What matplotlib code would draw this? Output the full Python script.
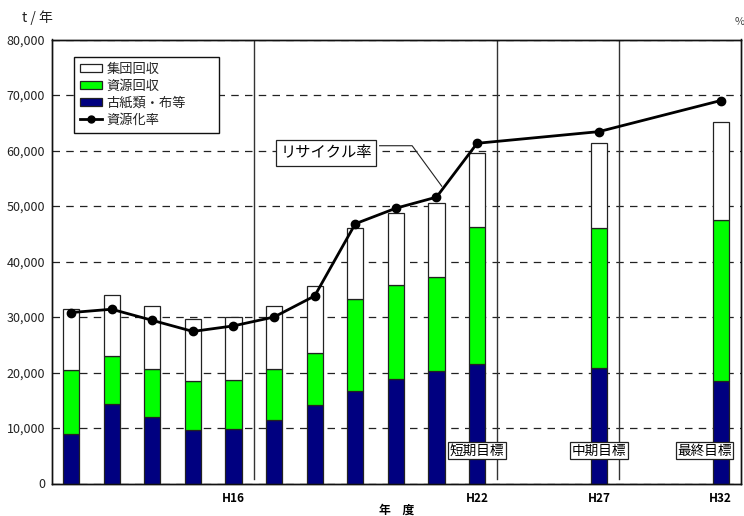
import matplotlib
matplotlib.use("Agg")
import matplotlib.pyplot as plt
from matplotlib.patches import Patch
from matplotlib.lines import Line2D
import numpy as np

plt.rcParams['font.family'] = ['Noto Sans CJK JP', 'DejaVu Sans']

# ---- data ----
years = ['H12', 'H13', 'H14', 'H15', 'H16', 'H17', 'H18', 'H19', 'H20', 'H21', 'H22', 'H27', 'H32']
shown_years = ['H16', 'H22', 'H27', 'H32']
koshi = [9000, 14300, 12000, 9600, 9900, 11400, 14100, 16700, 18800, 20200, 21600, 20800, 18500]   # 古紙類・布等
shigen = [11500, 8600, 8700, 8900, 8700, 9200, 9400, 16600, 16900, 17000, 24700, 25200, 29000]     # 資源回収
shudan = [10900, 11000, 11200, 11200, 11400, 11400, 12000, 12800, 13100, 13300, 13300, 15300, 17700]  # 集団回収
rate = [15.4, 15.7, 14.7, 13.7, 14.2, 15.0, 16.9, 23.4, 24.8, 25.8, 30.65, 31.7, 34.5]           # 資源化率 (%)
targets = ['短期目標', '中期目標', '最終目標']
target_years = ['H22', 'H27', 'H32']

# ---- layout ----
x = np.array(list(range(11)) + [13, 16], dtype=float)
koshi = np.array(koshi); shigen = np.array(shigen); shudan = np.array(shudan)

fig = plt.figure(figsize=(7.44, 5.16), dpi=100)
ax = fig.add_axes([52/744, 1-483.5/516, (741-52)/744, (483.5-39.5)/516])

w = 0.4
ec = '#222222'
ax.bar(x, koshi, w, color='#000080', edgecolor=ec, linewidth=0.9, zorder=3)
ax.bar(x, shigen, w, bottom=koshi, color='#00FF00', edgecolor=ec, linewidth=0.9, zorder=3)
ax.bar(x, shudan, w, bottom=koshi+shigen, color='white', edgecolor=ec, linewidth=0.9, zorder=3)

ax.set_xlim(-0.47, 16.5)
ax.set_ylim(0, 80000)
ax.set_yticks(np.arange(0, 80001, 10000))
ax.set_yticklabels([f'{v:,}' for v in range(0, 80001, 10000)], fontsize=9, color='#222222')
ax.yaxis.grid(True, linestyle=(0, (6, 5)), color='#222222', linewidth=0.9, zorder=0)
ax.set_axisbelow(True)
ax.tick_params(axis='both', length=0)
ax.tick_params(axis='y', pad=5)
ax.set_xticks(x)
ax.set_xticklabels([y if y in shown_years else '' for y in years], fontsize=8.5, fontweight='bold')
ax.tick_params(axis='x', pad=6)
ax.set_xlabel('年　度', fontsize=8.5, fontweight='bold', labelpad=-1)

for s in ax.spines.values():
    s.set_linewidth(1.0)
    s.set_color('#111111')

# separators
for xv in [4.5, 10.5, 13.5]:
    ax.axvline(xv, ymin=0.01, ymax=1, color='#333333', linewidth=1.0, zorder=2)

# rate line on right axis
ax2 = ax.twinx()
ax2.set_ylim(0, 40)
ax2.set_yticks([])
ax2.plot(x, rate, color='black', linewidth=2, marker='o', markersize=6, zorder=5)
for s in ax2.spines.values():
    s.set_linewidth(1.0)
    s.set_color('#111111')

# target labels
for t, ty in zip(targets, target_years):
    xi = x[years.index(ty)]
    off = -0.4 if t == '最終目標' else 0.0
    ax.text(xi + off, 5950, t, fontsize=9.8, ha='center', va='center', zorder=6,
            bbox=dict(boxstyle='square,pad=0.12', facecolor='white', edgecolor='#222222', linewidth=0.9))

# recycle rate callout
ax.text(6.28, 59600, 'リサイクル率', fontsize=11, ha='center', va='center', zorder=6,
        bbox=dict(boxstyle='square,pad=0.3', facecolor='white', edgecolor='#222222', linewidth=0.9))
i9 = years.index('H21')
fr = 0.13
end_x = x[i9] + fr * (x[i9+1] - x[i9])
end_y = (rate[i9] + fr * (rate[i9+1] - rate[i9])) * 2000 + 700
ax.plot([7.6, 8.4, end_x], [60860, 60860, end_y], color='#222222', linewidth=0.8, zorder=6)

# legend
handles = [Patch(facecolor='white', edgecolor=ec, linewidth=0.9, label='集団回収'),
           Patch(facecolor='#00FF00', edgecolor=ec, linewidth=0.9, label='資源回収'),
           Patch(facecolor='#000080', edgecolor=ec, linewidth=0.9, label='古紙類・布等'),
           Line2D([0], [0], color='black', linewidth=2, marker='o', markersize=5, label='資源化率')]
leg = ax.legend(handles=handles, loc='upper left',
                bbox_to_anchor=(22/689, 426.5/444, 145/689, 0.0), mode='expand', borderaxespad=0,
                fontsize=9.5, frameon=True, fancybox=False, framealpha=1, edgecolor='#111111',
                handlelength=1.7, handleheight=0.6, handletextpad=0.3, labelspacing=0.3,
                borderpad=0.45)
leg.get_frame().set_linewidth(1.0)
leg.set_zorder(10)
for t in leg.get_texts():
    t.set_color('#222222')

fig.text(37/744, 1-18/516, 't / 年', fontsize=10, ha='center', va='center', color='#222222')
fig.text(740/744, 1-22/516, '%', fontsize=8, ha='center', va='center', color='#444444')

fig.savefig('out.png', dpi=100)
